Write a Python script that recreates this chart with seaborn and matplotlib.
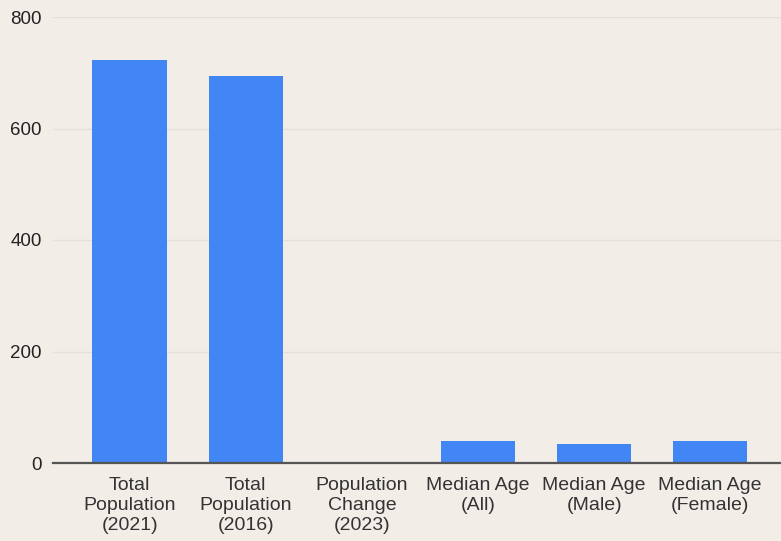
import matplotlib
matplotlib.use("Agg")
import matplotlib.pyplot as plt
import seaborn as sns
import pandas as pd

categories = [
    "Total\nPopulation\n(2021)",
    "Total\nPopulation\n(2016)",
    "Population\nChange\n(2023)",
    "Median Age\n(All)",
    "Median Age\n(Male)",
    "Median Age\n(Female)",
]
values = [723, 694, 0, 40, 34, 40]
y_ticks = [0, 200, 400, 600, 800]

bg = "#f3ede8"
bar_color = "#4285f4"

sns.set_theme(style="white")
plt.rcParams["font.family"] = ["Liberation Sans", "DejaVu Sans"]

df = pd.DataFrame({"category": categories, "value": values})

fig = plt.figure(figsize=(7.81, 5.41), dpi=100, facecolor=bg)
ax = fig.add_axes([53 / 781, 1 - 463 / 541, (781 - 53) / 781, 446 / 541])
ax.set_facecolor(bg)

sns.barplot(data=df, x="category", y="value", color=bar_color,
            saturation=1, width=0.64, edgecolor="none", linewidth=0, ax=ax)

ax.set_ylim(0, 800)
ax.set_xlim(-0.66, 5.61)
ax.set_yticks(y_ticks)
ax.set_yticklabels([str(t) for t in y_ticks], fontsize=13.5, color="#222222")
ax.tick_params(axis="x", labelsize=14, colors="#333333", length=0, pad=10)
ax.tick_params(axis="y", length=0, pad=8)
for lab in ax.get_xticklabels():
    lab.set_multialignment("center")
    lab.set_linespacing(1.22)

ax.grid(axis="y", color="#e4dfdb", linewidth=1)
ax.set_axisbelow(True)
for side in ["top", "right", "left"]:
    ax.spines[side].set_visible(False)
ax.spines["bottom"].set_color("#555555")
ax.spines["bottom"].set_linewidth(1.6)
ax.set_xlabel("")
ax.set_ylabel("")

fig.savefig("out.png", dpi=100, facecolor=bg)
